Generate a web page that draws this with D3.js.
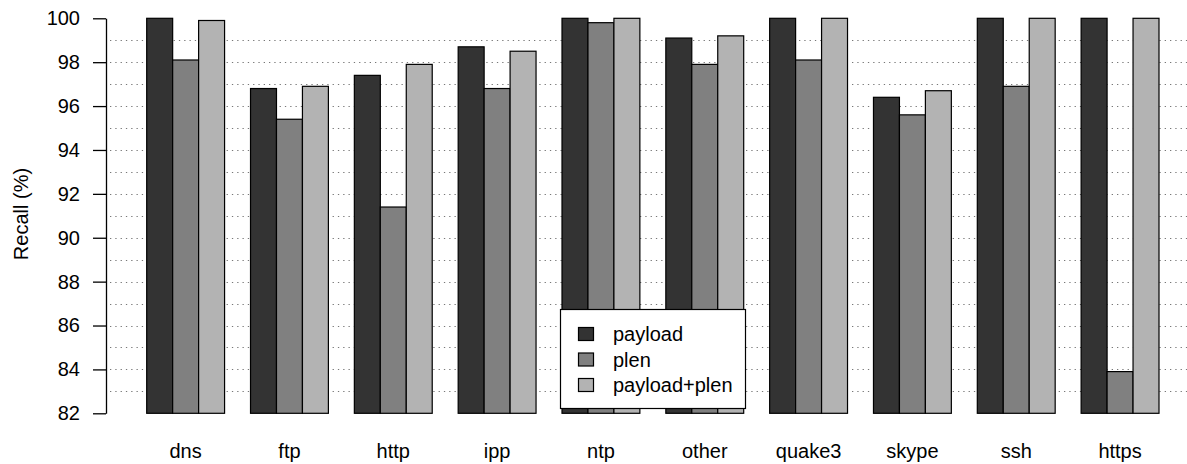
<!DOCTYPE html>
<html>
<head>
<meta charset="utf-8">
<script src="https://cdn.jsdelivr.net/npm/d3@7"></script>
<style>
  html, body { margin: 0; padding: 0; background: #fff; }
  svg { display: block; }
  text { font-family: "Liberation Sans", Arial, Helvetica, sans-serif; fill: #000; }
</style>
</head>
<body>
<svg id="chart" width="1187" height="464"></svg>
<script>
const categories = ["dns", "ftp", "http", "ipp", "ntp", "other", "quake3", "skype", "ssh", "https"];
const seriesNames = ["payload", "plen", "payload+plen"];
const payload     = [100, 96.8, 97.4, 98.7, 100, 99.1, 100, 96.4, 100, 100];
const plen        = [98.1, 95.4, 91.4, 96.8, 99.8, 97.9, 98.1, 95.6, 96.9, 83.9];
const payloadPlen = [99.9, 96.9, 97.9, 98.5, 100, 99.2, 100, 96.7, 100, 100];
const yTicks = [82, 84, 86, 88, 90, 92, 94, 96, 98, 100];
const gridValues = [83, 84, 85, 86, 87, 88, 89, 90, 91, 92, 93, 94, 95, 96, 97, 98, 99];
const seriesColors = ["#333333", "#808080", "#b3b3b3"];

const seriesValues = [payload, plen, payloadPlen];

const svg = d3.select("#chart");

const y = d3.scaleLinear().domain([82, 100]).range([413.3, 18.3]);
const x = d3.scaleBand().domain(categories).range([146.7, 1159]).paddingInner(0.25).paddingOuter(0);
const xs = d3.scaleBand().domain(seriesNames).range([0, x.bandwidth()]).padding(0);
const color = d3.scaleOrdinal().domain(seriesNames).range(seriesColors);

// grid lines
svg.append("g").selectAll("line").data(gridValues).join("line")
  .attr("x1", 110).attr("x2", 1187)
  .attr("y1", d => Math.round(y(d)) + 0.5).attr("y2", d => Math.round(y(d)) + 0.5)
  .attr("stroke", "#777").attr("stroke-width", 1)
  .attr("stroke-dasharray", "1.3,4");

// bars
const table = [];
categories.forEach((c, i) => {
  seriesNames.forEach((s, j) => table.push({ cat: c, series: s, value: seriesValues[j][i] }));
});

svg.append("g").selectAll("rect").data(table).join("rect")
  .attr("x", d => x(d.cat) + xs(d.series))
  .attr("y", d => y(d.value))
  .attr("width", xs.bandwidth())
  .attr("height", d => y(82) - y(d.value))
  .attr("fill", d => color(d.series))
  .attr("stroke", "#000").attr("stroke-width", 1.2);

// y axis
const yAxis = d3.axisLeft(y).tickValues(yTicks).tickSize(13).tickPadding(13).tickSizeOuter(0);
const gy = svg.append("g").attr("transform", "translate(106,0)").call(yAxis);
gy.select(".domain").attr("stroke", "#000").attr("stroke-width", 1.3);
gy.selectAll(".tick line").attr("stroke", "#000").attr("stroke-width", 1.3);
gy.selectAll(".tick text").attr("font-size", 20).attr("font-family", "Liberation Sans, Arial, sans-serif").attr("fill", "#000");

// x category labels
svg.append("g").selectAll("text").data(categories).join("text")
  .attr("x", d => x(d) + x.bandwidth() / 2)
  .attr("y", 458)
  .attr("text-anchor", "middle")
  .attr("font-size", 20)
  .text(d => d);

// y title
svg.append("text")
  .attr("transform", "translate(28,214) rotate(-90)")
  .attr("text-anchor", "middle")
  .attr("font-size", 20)
  .text("Recall (%)");

// legend
const lg = svg.append("g");
lg.append("rect").attr("x", 560.5).attr("y", 309.5).attr("width", 185).attr("height", 99)
  .attr("fill", "#fff").attr("stroke", "#000").attr("stroke-width", 1.2);
const rowY = [334, 359.5, 385];
const items = lg.selectAll("g.item").data(seriesNames).join("g").attr("class", "item")
  .attr("transform", (d, i) => `translate(0,${rowY[i]})`);
items.append("rect").attr("x", 578.5).attr("y", -6.5).attr("width", 15).attr("height", 13)
  .attr("fill", d => color(d)).attr("stroke", "#000").attr("stroke-width", 1.2);
items.append("text").attr("x", 613).attr("y", 0).attr("dy", "0.35em")
  .attr("font-size", 20).text(d => d);
</script>
</body>
</html>
